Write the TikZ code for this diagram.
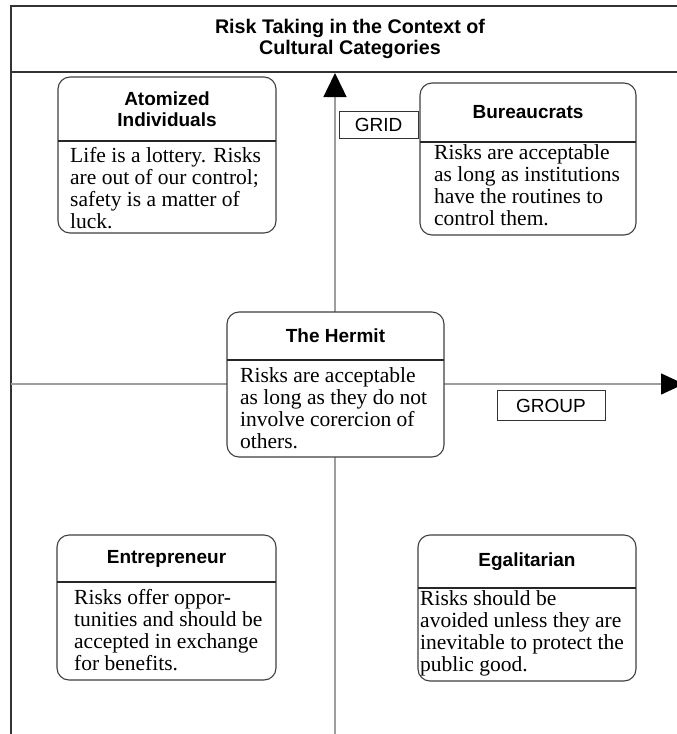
\documentclass[tikz,border=0pt]{standalone}
\usepackage{fontspec}
\setmainfont{Liberation Serif}
\setsansfont{Liberation Sans}
\usetikzlibrary{arrows.meta}

% One category panel: rounded frame, header strip, header text and body text.
% #1 name, #2..#5 corners, #6 separator height, #7 header, #8 body x, #9 first baseline
\newcommand\riskpanel[9]{%
  \draw[panel] (#2,#3) rectangle (#4,#5);
  \draw[rule] (#2,#6) -- (#4,#6);
  \node[headtext] (#1-head) at ({(#2+#4)/2},{(#3+#6)/2}) {#7};
  \riskpanelbody{#1}{#8}{#9}%
}
% four-line body; the base anchor sits on the last line
\newcommand\riskpanelbody[4]{%
  \node[bodytext] (#1-body) at (#2,{#3+3*22}) {#4};
}

\begin{document}
\begin{tikzpicture}[x=1pt,y=-1pt,
  frame/.style={draw=black!80, line width=1.2pt},
  axis/.style={draw=black!38, line width=1.4pt},
  panel/.style={draw=black!75, line width=1.1pt, fill=white, rounded corners=12pt},
  rule/.style={draw=black!85, line width=1.1pt},
  headtext/.style={font=\sffamily\bfseries\fontsize{19}{21}\selectfont, align=center, inner sep=0pt},
  bodytext/.style={font=\fontsize{21.5}{22}\selectfont, align=left, anchor=base west, inner sep=0pt},
  axislabel/.style={draw=black!80, line width=1pt, fill=white, font=\sffamily\fontsize{19}{21}\selectfont, inner sep=0pt}
]
\clip (0,0) rectangle (677,734);
\fill[white] (0,0) rectangle (677,734);

% outer frame and title strip
\draw[frame] (11,734) -- (11,6) -- (690,6);
\draw[frame] (11,72) -- (690,72);
\node[font=\sffamily\bfseries\fontsize{19.7}{21}\selectfont, align=center, inner sep=0pt] (title) at (350,38.5)
  {Risk Taking in the Context of\\Cultural Categories};

% axes
\coordinate (gridfoot) at (335,740);
\coordinate (gridtip) at (335,73);
\coordinate (groupfoot) at (11,384);
\coordinate (grouptip) at (684,384);
\draw[axis, -{Triangle[width=23pt,length=24pt,color=black]}] (gridfoot) -- (gridtip);
\draw[axis, -{Triangle[width=21pt,length=23pt,color=black]}] (groupfoot) -- (grouptip);

\node[axislabel, minimum width=79pt, minimum height=27pt] (grid) at (378.5,124.5) {GRID};
\node[axislabel, minimum width=108pt, minimum height=30pt] (group) at (551,405.5) {GROUP};

% category panels
\riskpanel{atom}{58}{77}{276}{233}{141}{Atomized\\Individuals}{70}{162}
  {Life is a lottery. Risks\\are out of our control;\\safety is a matter of\\luck.}
\riskpanel{bureau}{420}{83}{636}{235}{142}{Bureaucrats}{434}{159}
  {Risks are acceptable\\as long as institutions\\have the routines to\\control them.}
\riskpanel{hermit}{227}{312}{444}{457}{360}{The Hermit}{240}{382}
  {Risks are acceptable\\as long as they do not\\involve corercion of\\others.}
\riskpanel{entre}{57}{535}{276}{680}{582}{Entrepreneur}{74}{604}
  {Risks offer oppor-\\tunities and should be\\accepted in exchange\\for benefits.}
\riskpanel{egal}{418}{535}{636}{681}{588}{Egalitarian}{420}{605}
  {Risks should be\\avoided unless they are\\inevitable to protect the\\public good.}
\end{tikzpicture}
\end{document}
